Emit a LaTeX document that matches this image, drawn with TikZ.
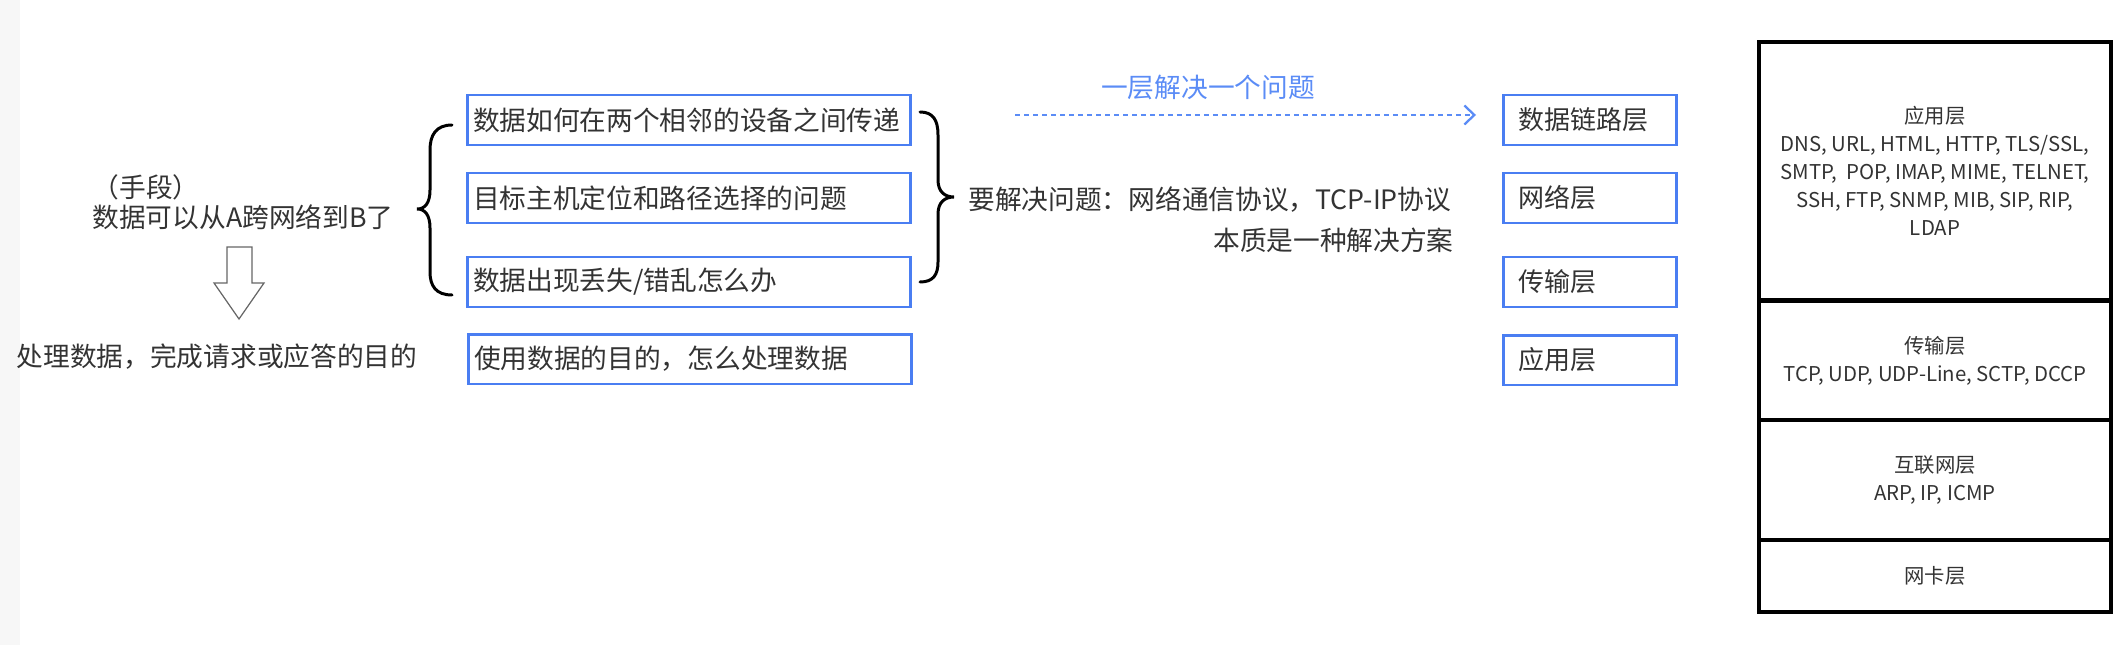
\documentclass[tikz,border=0pt]{standalone}
\usepackage{fontspec}
\setmainfont{Noto Sans CJK SC}
\usetikzlibrary{positioning,arrows.meta}
\usepackage{xcolor}
\definecolor{boxblue}{HTML}{4A7EF2}
\definecolor{labelblue}{HTML}{5B8CF6}
\definecolor{inkgray}{HTML}{333333}

\tikzset{
  probbox/.style={draw=boxblue, line width=1.7pt, rectangle, minimum height=1.0cm,
    inner xsep=0.12cm, text width=8.64cm, align=left, text=inkgray,
    font=\fontsize{15.2}{18}\selectfont},
  layerbox/.style={draw=boxblue, line width=1.7pt, rectangle, minimum height=1.0cm,
    inner xsep=0.3cm, text width=2.86cm, align=left, text=inkgray,
    font=\fontsize{14.8}{17}\selectfont},
  stackbox/.style={draw=black, line width=1.8pt, rectangle, minimum width=7.04cm,
    align=center, text=inkgray, font=\fontsize{11.6}{15.9}\selectfont},
  plaintext/.style={inner sep=0pt, text=inkgray, font=\fontsize{15.2}{18}\selectfont},
  bracket/.style={black, line width=1.7pt, line cap=round}
}

\begin{document}
\begin{tikzpicture}[x=0.02cm, y=-0.02cm]
  \useasboundingbox (0,0) rectangle (2128,645);
  \fill[black!3] (0,0) rectangle (20,645);

  % left column: means and purpose
  \node[plaintext] (means) at (146,187) {（手段）};
  \node[plaintext] (reach) at (243,217) {数据可以从A跨网络到B了};
  \node[plaintext] (purpose) at (217,357) {处理数据，完成请求或应答的目的};

  % hollow arrow down
  \draw[black!60, line width=0.7pt] (227,247) -- (252,247) -- (252,283) -- (264,283)
    -- (239,319) -- (214,283) -- (227,283) -- cycle;

  % left brace
  \draw[bracket] (452,125) .. controls (436,125) and (430,135) .. (430,150) -- (430,190)
    .. controls (430,203) and (425,209) .. (417,209)
    .. controls (425,209) and (430,215) .. (430,228) -- (430,272)
    .. controls (430,286) and (436,295) .. (452,295);

  % problems to solve
  \node[probbox] (link) at (689,120) {数据如何在两个相邻的设备之间传递};
  \node[probbox] (net) at (689,198) {目标主机定位和路径选择的问题};
  \node[probbox] (trans) at (689,282) {数据出现丢失/错乱怎么办};
  \node[probbox] (app) at (690,359) {使用数据的目的，怎么处理数据};

  % right brace
  \draw[bracket] (920,112) .. controls (933,112) and (938,120) .. (938,135) -- (938,180)
    .. controls (938,192) and (945,197) .. (954,197)
    .. controls (945,197) and (938,202) .. (938,214) -- (938,262)
    .. controls (938,275) and (933,282) .. (920,282);

  \node[plaintext, anchor=west] (solve) at (968,200) {要解决问题：网络通信协议，TCP-IP协议};
  \node[plaintext, anchor=east] (essence) at (1454,240) {本质是一种解决方案};

  % one layer per problem
  \coordinate (dstart) at (1015,115);
  \coordinate (dend) at (1476,115);
  \draw[labelblue, line width=1.3pt, dash pattern=on 0.1cm off 0.08cm,
    -{Straight Barb[length=0.2cm, width=0.38cm]}] (dstart) -- (dend);
  \node[plaintext, text=labelblue] (perlayer) at (1208,87) {一层解决一个问题};

  \node[layerbox] (llink) at (1590,120) {数据链路层};
  \node[layerbox] (lnet) at (1590,198) {网络层};
  \node[layerbox] (ltrans) at (1590,282) {传输层};
  \node[layerbox] (lapp) at (1590,360) {应用层};

  % TCP/IP stack
  \node[stackbox, minimum height=5.16cm] (sapp) at (1935,171)
    {应用层\\DNS, URL, HTML, HTTP, TLS/SSL,\\SMTP,~ POP, IMAP, MIME, TELNET,\\SSH, FTP, SNMP, MIB, SIP, RIP,\\LDAP};
  \node[stackbox, minimum height=2.38cm] (strans) at (1935,361)
    {传输层\\TCP, UDP, UDP-Line, SCTP, DCCP};
  \node[stackbox, minimum height=2.4cm] (sinet) at (1935,480)
    {互联网层\\ARP, IP, ICMP};
  \node[stackbox, minimum height=1.44cm] (snic) at (1935,576) {网卡层};
\end{tikzpicture}
\end{document}
